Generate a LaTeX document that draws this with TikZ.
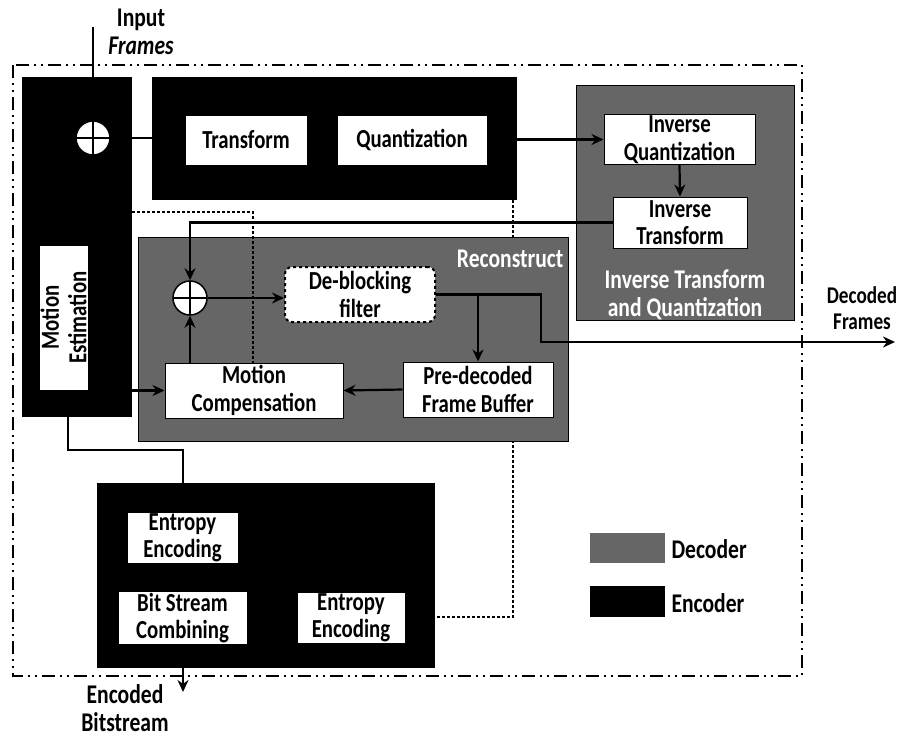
\documentclass[tikz,border=0pt]{standalone}
\usepackage{fontspec}
\setmainfont{Carlito}[FakeStretch=0.8]
\usetikzlibrary{arrows.meta}
\tikzset{
    enc-area/.style = {fill=black, inner sep=0pt},
    dec-area/.style = {fill=black!60, draw=black, line width=1pt, inner sep=0pt},
    white-box/.style = {draw=black, fill=white, line width=1pt, rectangle, align=center, inner sep=1pt, font=\fontsize{26}{27.5}\selectfont\bfseries},
    cloud-box/.style = {white-box, dashed, line width=2pt, rounded corners=7pt},
    sum-node/.style = {circle, draw=black, fill=white, line width=1.5pt, minimum size=34pt, inner sep=0pt,
        path picture={\draw[line width=2.5pt] (path picture bounding box.north) -- (path picture bounding box.south)
            (path picture bounding box.west) -- (path picture bounding box.east);}},
    area-title/.style = {text=white, align=center, font=\fontsize{27}{27.5}\selectfont\bfseries},
    plain-label/.style = {align=center, font=\fontsize{27}{28}\selectfont\bfseries},
    flow/.style = {line width=2.2pt, -{Stealth[length=12pt, width=11pt]}},
    wire/.style = {line width=2.2pt},
    tap-line/.style = {line width=2.8pt, dash pattern=on 2.4pt off 2.6pt},
    frame-line/.style = {line width=2pt, dash pattern=on 13pt off 5pt on 2pt off 5pt on 2pt off 5pt},
}

\begin{document}
\begin{tikzpicture}[x=1pt, y=-1pt]
\useasboundingbox (0,0) rectangle (899,737);

% whole codec
\draw[frame-line] (13,65) rectangle (802,676);

% encoder areas
\node[enc-area, minimum width=110pt, minimum height=340pt] (mecol) at (77,247) {};
\node[enc-area, minimum width=365pt, minimum height=123pt] (topenc) at (334.5,138.5) {};
\node[enc-area, minimum width=338pt, minimum height=185pt] (botenc) at (266,575.5) {};

% coefficients to entropy coding (behind the reconstruction loop)
\coordinate (coef) at (513,617);
\draw[tap-line] (coef |- topenc.south) -- (coef) -- (coef -| botenc.east);

% decoder areas
\node[dec-area, minimum width=430pt, minimum height=204pt] (recon) at (353,339) {};
\node[dec-area, minimum width=218pt, minimum height=235pt] (invbox) at (685,202.5) {};
\node[area-title, anchor=east] (recontitle) at (567,259) {Reconstruct};
\node[area-title] (invtitle) at (685,295) {Inverse Transform\\and Quantization};

% blocks
\node[sum-node] (sumtop) at (93,138) {};
\node[white-box, minimum width=122pt, minimum height=50pt] (tr) at (246,140) {Transform};
\node[white-box, minimum width=150pt, minimum height=50pt] (qu) at (412,140) {Quantization};
\node[white-box, minimum width=151pt, minimum height=49pt] (iq) at (679.5,139.5) {Inverse\\Quantization};
\node[white-box, minimum width=134pt, minimum height=51pt] (it) at (680,222.5) {Inverse\\Transform};
\node[white-box, rotate=90, minimum width=145pt, minimum height=49pt] (me) at (63.5,317.5) {Motion\\Estimation};
\node[sum-node] (sumbot) at (190,298) {};
\node[cloud-box, minimum width=150pt, minimum height=55pt] (dbf) at (360,294.5) {De-blocking\\filter};
\node[white-box, minimum width=178pt, minimum height=55pt] (mc) at (254,390.5) {Motion\\Compensation};
\node[white-box, minimum width=150pt, minimum height=55pt] (pfb) at (478,389.5) {Pre-decoded\\Frame Buffer};
\node[white-box, minimum width=111pt, minimum height=50pt] (ee1) at (182.5,538) {Entropy\\Encoding};
\node[white-box, minimum width=129pt, minimum height=50pt] (bsc) at (182.5,618) {Bit Stream\\Combining};
\node[white-box, minimum width=108pt, minimum height=50pt] (ee2) at (351,618) {Entropy\\Encoding};

% outside labels
\node[plain-label] (inlbl) at (141,32) {Input\\\itshape Frames};
\node[plain-label, font=\fontsize{24}{26}\selectfont\bfseries] (declbl) at (862,308) {Decoded\\Frames};
\node[plain-label] (enclbl) at (125,708) {Encoded\\Bitstream};

% legend
\node[dec-area, draw=none, minimum width=75pt, minimum height=30pt] (decsw) at (627.5,548) {};
\node[plain-label, anchor=west] (declg) at (668,549) {Decoder};
\node[enc-area, minimum width=75pt, minimum height=31pt] (encsw) at (627.5,601.5) {};
\node[plain-label, anchor=west] (enclg) at (668,603) {Encoder};

% connections
\coordinate (in) at (93,27);
\coordinate (out) at (895,342);
\coordinate (bend) at (541,342);
\coordinate (tap) at (68,450);
\coordinate (encout) at (183,692);
\coordinate (mvtop) at (253,212);

\draw[wire] (in) -- (sumtop.north);
\draw[wire] (sumtop.east) -- (topenc.west |- sumtop.east);
\draw[flow] (topenc.east |- iq.west) -- (iq.west);
\draw[flow] (iq.south) -- (it.north);
\draw[flow] (it.west) -| (sumbot.north);
\draw[flow] (sumbot.east) -- (sumbot.east -| dbf.west);
\draw[flow] (dbf.east) -| (bend) -- (out);
\draw[flow] (pfb.north |- dbf.east) -- (pfb.north);
\draw[flow] (pfb.west) -- (mc.east);
\draw[flow] (mecol.east |- mc.west) -- (mc.west);
\draw[flow] (sumbot |- mc.north) -- (sumbot.south);
\draw[wire] (tap |- mecol.south) -- (tap) -| (encout |- botenc.north);
\draw[flow] (encout |- botenc.south) -- (encout);
\draw[tap-line] (mvtop -| mecol.east) -- (mvtop) -- (mvtop |- mc.north);
\end{tikzpicture}
\end{document}
